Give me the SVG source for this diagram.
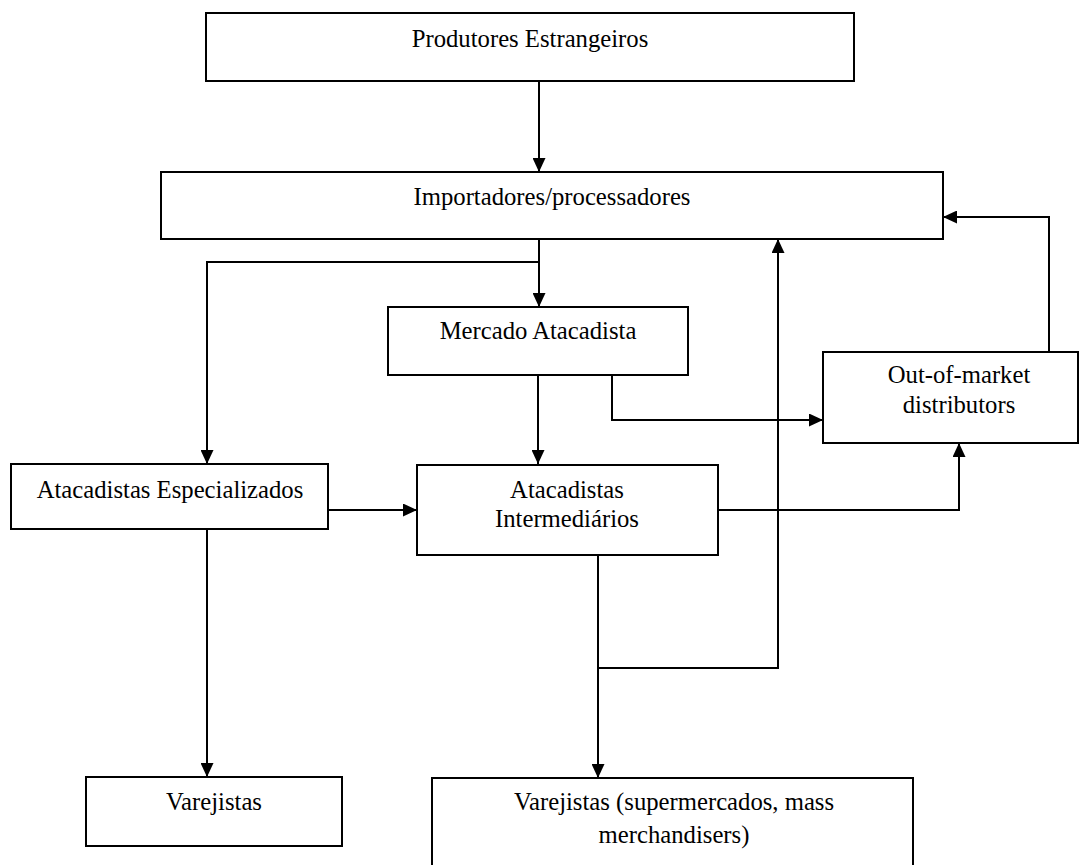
<svg xmlns="http://www.w3.org/2000/svg" width="1080" height="865" viewBox="0 0 1080 865">
<style>
.box{fill:#fff;stroke:#000;stroke-width:2}
.lbl{font-family:"Liberation Serif","Times New Roman",serif;font-size:24.7px;fill:#000;text-anchor:middle}
.conn{fill:none;stroke:#000;stroke-width:2}
</style>
<defs>
<marker id="ah" markerUnits="userSpaceOnUse" markerWidth="14" markerHeight="13" refX="14" refY="6.5" orient="auto">
<path d="M0,0 L14,6.5 L0,13 z" fill="#000"/>
</marker>
</defs>
<rect width="1080" height="865" fill="#fff"/>
<g id="connectors">
<path class="conn" d="M539,81 V172" marker-end="url(#ah)"/>
<path class="conn" d="M539,239 V307" marker-end="url(#ah)"/>
<path class="conn" d="M539,262 H207 V464" marker-end="url(#ah)"/>
<path class="conn" d="M538,375 V464" marker-end="url(#ah)"/>
<path class="conn" d="M612,375 V420 H823" marker-end="url(#ah)"/>
<path class="conn" d="M1049,352 V217 H943" marker-end="url(#ah)"/>
<path class="conn" d="M598,555 V778" marker-end="url(#ah)"/>
<path class="conn" d="M598,668 H778 V239" marker-end="url(#ah)"/>
<path class="conn" d="M718,510 H959 V443" marker-end="url(#ah)"/>
<path class="conn" d="M328,510 H417" marker-end="url(#ah)"/>
<path class="conn" d="M207,529 V777" marker-end="url(#ah)"/>
</g>
<g id="produtores">
<rect class="box" x="206" y="13" width="648" height="68"/>
<text class="lbl" x="530" y="47">Produtores Estrangeiros</text>
</g>
<g id="importadores">
<rect class="box" x="161" y="172" width="782" height="67"/>
<text class="lbl" x="552" y="205">Importadores/processadores</text>
</g>
<g id="mercado">
<rect class="box" x="388" y="307" width="300" height="68"/>
<text class="lbl" x="538" y="339">Mercado Atacadista</text>
</g>
<g id="outofmarket">
<rect class="box" x="823" y="352" width="255" height="91"/>
<text class="lbl" x="959" y="383">Out-of-market</text>
<text class="lbl" x="959" y="413">distributors</text>
</g>
<g id="especializados">
<rect class="box" x="11" y="464" width="317" height="65"/>
<text class="lbl" x="170" y="498">Atacadistas Especializados</text>
</g>
<g id="intermediarios">
<rect class="box" x="417" y="465" width="301" height="90"/>
<text class="lbl" x="567" y="498">Atacadistas</text>
<text class="lbl" x="567" y="527">Intermediários</text>
</g>
<g id="varejistas">
<rect class="box" x="86" y="777" width="256" height="69"/>
<text class="lbl" x="214" y="810">Varejistas</text>
</g>
<g id="varejistas-super">
<path class="box" d="M432,870 V778 H913 V870"/>
<text class="lbl" x="674" y="810">Varejistas (supermercados, mass</text>
<text class="lbl" x="674" y="843">merchandisers)</text>
</g>
</svg>
